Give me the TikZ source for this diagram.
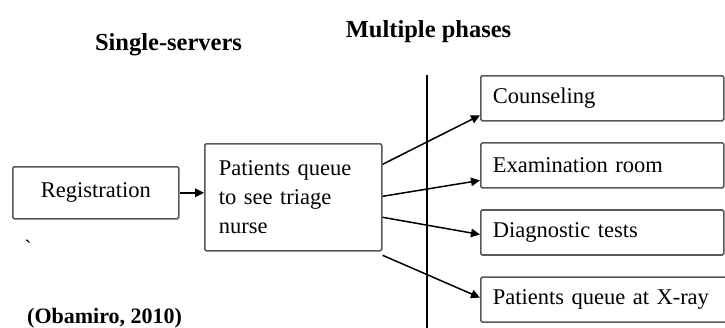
\documentclass[tikz,border=0pt]{standalone}
\usepackage{fontspec}
\setmainfont{Liberation Serif}
\usepackage{tikz}
\usetikzlibrary{arrows.meta,positioning,calc}
\tikzset{
  stagebox/.style={draw=black!65,line width=1.6pt,rounded corners=1.5pt,align=center,
    inner xsep=0pt,font=\fontsize{22.5}{29}\selectfont},
  phasebox/.style={draw=black!65,line width=1.6pt,rounded corners=1.5pt,align=left,
    anchor=north west,minimum height=45pt,text width=219pt,inner xsep=12pt,
    font=\fontsize{22.5}{29}\selectfont},
  flowarrow/.style={-{Triangle[length=9pt,width=8.5pt]},line width=1.5pt},
  headlabel/.style={font=\fontsize{24.5}{28}\selectfont\bfseries,anchor=base,inner sep=0pt}
}
\begin{document}
\begin{tikzpicture}[x=1pt,y=-1pt,node distance=20.5pt]
  \useasboundingbox (0,0) rectangle (725,327);
  \node[headlabel] (single) at (168.5,50) {Single-servers};
  \node[headlabel] (multi) at (428.5,37) {Multiple phases};
  \node[stagebox,anchor=north west,minimum width=166pt,minimum height=52pt] (reg) at (12,166) {Registration};
  \node[stagebox,anchor=north west,align=left,text width=149pt,inner xsep=14pt,minimum height=107pt] (tri) at (204,143)
    {Patients queue\\to see triage\\nurse};
  \node[phasebox] (couns) at (480,75) {Counseling};
  \node[phasebox,below=of couns] (exam) {Examination room};
  \node[phasebox,below=of exam] (diag) {Diagnostic tests};
  \node[phasebox,text width=240pt,below=of diag.south west,anchor=north west] (xray) {Patients queue at X-ray};
  \draw[line width=1.2pt] (427,75) -- (427,330);
  \draw[flowarrow] (reg.east) -- (reg.east -| tri.west);
  \draw[flowarrow] ([yshift=33pt]tri.east) -- ([yshift=-17pt]couns.west);
  \draw[flowarrow] ([yshift=1pt]tri.east) -- ([yshift=-15pt]exam.west);
  \draw[flowarrow] ([yshift=-20pt]tri.east) -- ([yshift=-2pt]diag.west);
  \draw[flowarrow] ([yshift=-58pt]tri.east) -- ([yshift=2pt]xray.west);
  \node[anchor=north,inner sep=0pt,font=\fontsize{22}{29}\selectfont] (tick) at (28,240) {\textasciigrave};
  \node[anchor=base west,inner sep=0pt,font=\fontsize{22}{29}\selectfont\bfseries] (src) at (27,323) {(Obamiro, 2010)};
\end{tikzpicture}
\end{document}
